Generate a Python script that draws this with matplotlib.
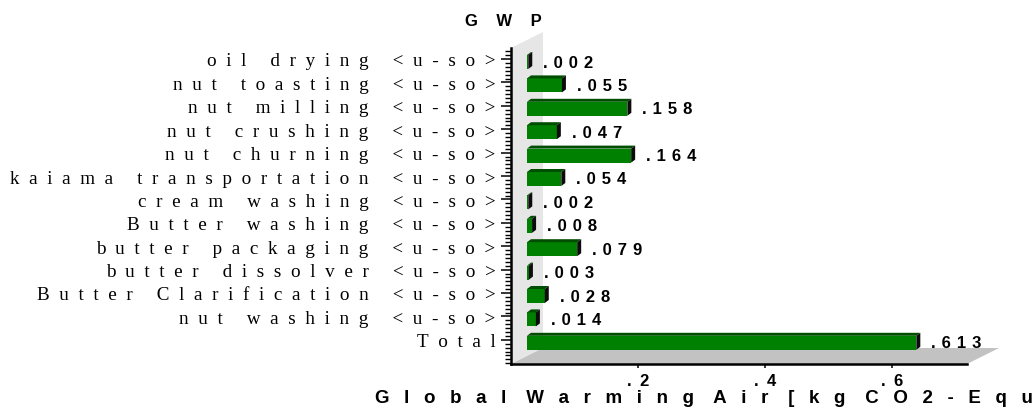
import numpy as np
import matplotlib
matplotlib.use("Agg")
import matplotlib.pyplot as plt
from matplotlib.patches import Polygon
from matplotlib.ticker import MultipleLocator
from matplotlib.transforms import offset_copy

# processos (de cima para baixo) e GWP de cada um
processos = [
    "oil drying <u-so>",
    "nut toasting <u-so>",
    "nut milling <u-so>",
    "nut crushing <u-so>",
    "nut churning <u-so>",
    "kaiama transportation <u-so>",
    "cream washing <u-so>",
    "Butter washing <u-so>",
    "butter packaging <u-so>",
    "butter dissolver <u-so>",
    "Butter Clarification <u-so>",
    "nut washing <u-so>",
    "Total",
]
gwp = [0.002, 0.055, 0.158, 0.047, 0.164, 0.054, 0.002,
       0.008, 0.079, 0.003, 0.028, 0.014, 0.613]

xticks = [0.2, 0.4, 0.6]
xtick_labels = [".2", ".4", ".6"]
titulo = "GWP"
rotulo_x = "Global Warming Air [kg CO2-Equ"

SERIF = ["Liberation Serif", "DejaVu Serif"]
SANS = ["Liberation Sans", "DejaVu Sans"]


def espacado(texto, sep, sep_palavra=None):
    # texto com espaçamento largo entre letras
    if sep_palavra is None:
        sep_palavra = sep + " " + sep
    return sep_palavra.join(sep.join(p) for p in texto.split(" "))


W, H = 1035, 410
fig = plt.figure(figsize=(W / 100, H / 100), dpi=100)

# eixo em pixels: origem x=511, topo y=49, base y=365
esq, dir_, topo, base = 511, 967, 49, 365
ax = fig.add_axes([esq / W, 1 - base / H, (dir_ - esq) / W, (base - topo) / H])

xmax = 0.718
passo = 23.4  # px por linha
y_topo = -(60 - topo) / passo
y_base = y_topo + (base - topo) / passo
ax.set_xlim(0, xmax)
ax.set_ylim(y_base, y_topo)

sx = (dir_ - esq) / xmax  # px por unidade em x
sy = passo                # px por linha em y

# parede do fundo e piso (efeito 3D)
prof_x, prof_y = 32 / sx, 16 / sy
parede = Polygon([(0, y_base), (0, y_topo), (prof_x, y_topo - prof_y), (prof_x, y_base - prof_y)],
                 closed=True, facecolor="#e6e6e6", edgecolor="none", zorder=0, clip_on=False)
piso = Polygon([(0, y_base), (xmax, y_base), (xmax + prof_x, y_base - prof_y), (prof_x, y_base - prof_y)],
               closed=True, facecolor="#c2c2c2", edgecolor="none", zorder=0, clip_on=False)
ax.add_patch(parede)
ax.add_patch(piso)

# barras deslocadas para o meio da profundidade
linhas = np.arange(len(processos))
trans_barra = offset_copy(ax.transData, fig, x=16, y=-3, units="dots")
altura = 14 / sy
bx, by = 4 / sx, 3 / sy

barras = ax.barh(linhas, gwp, height=altura, color="#008000", zorder=2, clip_on=False)
for b in barras:
    b.set_transform(trans_barra)

for r, v in zip(linhas, gwp):
    t = r - altura / 2
    b_ = r + altura / 2
    topo_barra = Polygon([(0, t), (v, t), (v + bx, t - by), (bx, t - by)],
                         closed=True, facecolor="#004f00", edgecolor="none",
                         transform=trans_barra, zorder=2, clip_on=False)
    lado = Polygon([(v, t), (v, b_), (v + bx, b_ - by), (v + bx, t - by)],
                   closed=True, facecolor="#0c0c0c", edgecolor="none",
                   transform=trans_barra, zorder=2, clip_on=False)
    ax.add_patch(topo_barra)
    ax.add_patch(lado)

# valores ao lado das barras
trans_valor = offset_copy(ax.transData, fig, x=16 + 4 + 11, y=-3, units="dots")
for r, v in zip(linhas, gwp):
    ax.text(v, r, espacado(f"{v:.3f}".lstrip("0"), " \u200a"), transform=trans_valor,
            ha="left", va="center", fontsize=12, fontweight="bold",
            family=SANS, zorder=3, clip_on=False)

# eixos
for lado_ in ["top", "right"]:
    ax.spines[lado_].set_visible(False)
for lado_ in ["left", "bottom"]:
    ax.spines[lado_].set_linewidth(1.8)
    ax.spines[lado_].set_zorder(4)

ax.set_yticks(linhas, labels=[espacado(p, "\u2002") for p in processos])
ax.yaxis.set_minor_locator(MultipleLocator(1 / 6))
ax.tick_params(axis="y", which="major", length=7, width=1.1, pad=4.3)
ax.tick_params(axis="y", which="minor", length=4.5, width=1.0)
for lbl in ax.get_yticklabels():
    lbl.set_family(SERIF)
    lbl.set_fontsize(13.8)

ax.set_xticks(xticks, labels=[espacado(s, "\u2002") for s in xtick_labels])
ax.tick_params(axis="x", which="major", length=3, width=1.1, pad=3.5)
for lbl in ax.get_xticklabels():
    lbl.set_family(SANS)
    lbl.set_fontsize(12)
    lbl.set_fontweight("bold")

ax.set_xlabel(espacado(rotulo_x, "\u2002 ", " \u2002 "), fontsize=13.5,
              fontweight="bold", family=SANS)
ax.xaxis.label.set_horizontalalignment("left")
ax.xaxis.label.set_verticalalignment("center")
ax.xaxis.set_label_coords((375 - esq) / (dir_ - esq), -(399 - base) / (base - topo))

fig.text(503 / W, 1 - 21 / H, espacado(titulo, "    "), ha="center", va="center",
         fontsize=12, fontweight="bold", family=SANS)

ax.patch.set_visible(False)
fig.savefig("out.png", dpi=100, facecolor="white")
